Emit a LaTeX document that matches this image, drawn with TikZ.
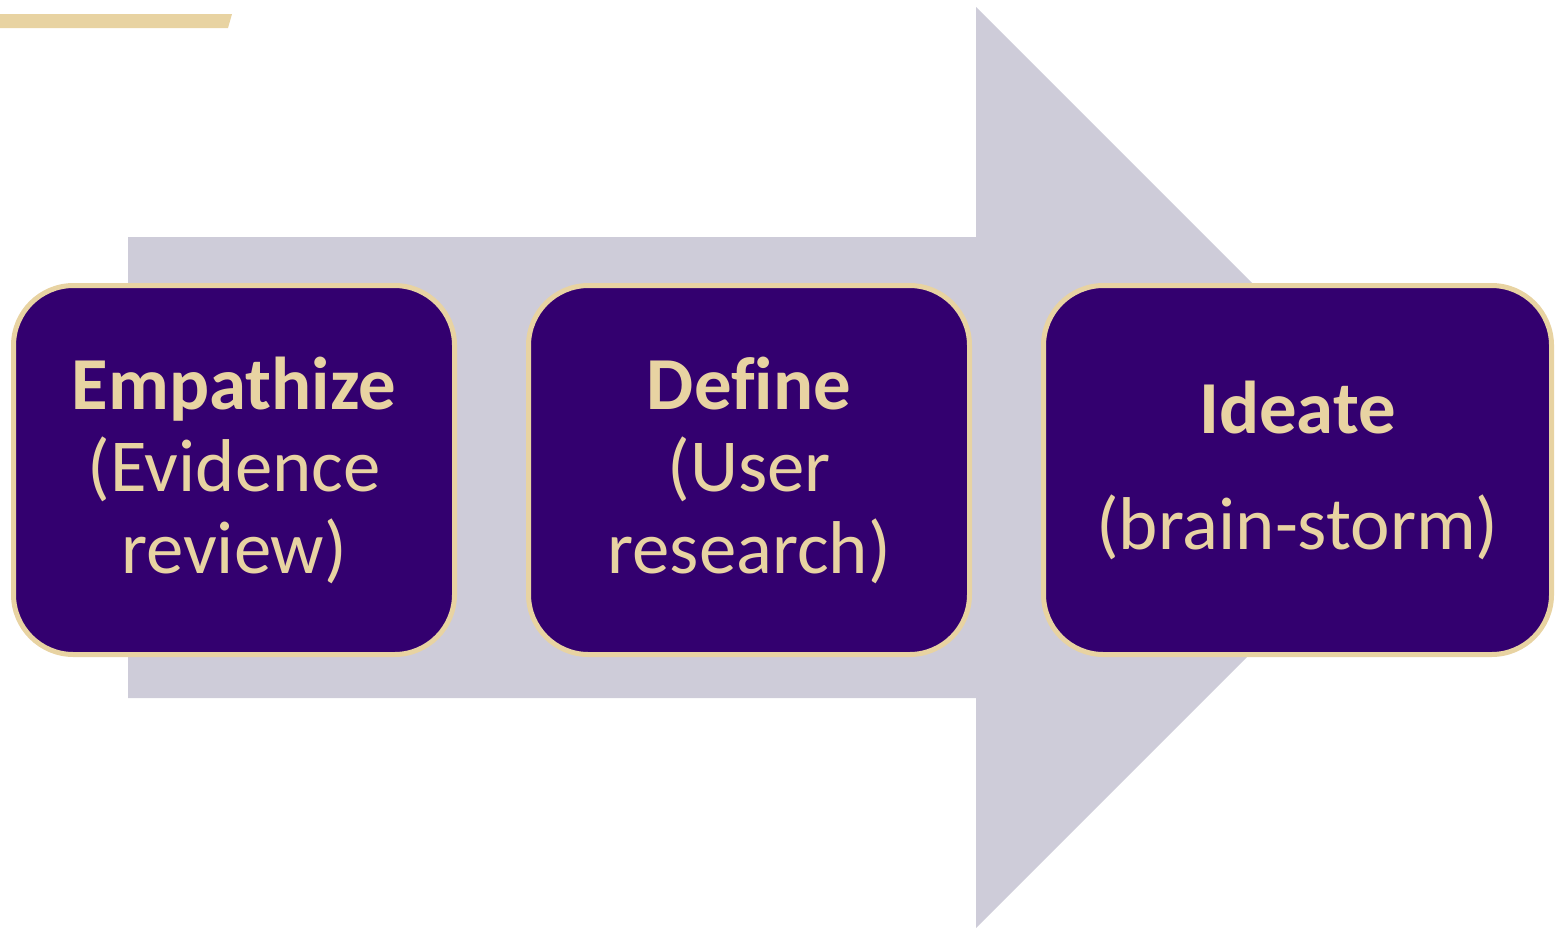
\documentclass[tikz,border=0pt]{standalone}
\usepackage{fontspec}
\setmainfont[Ligatures=NoCommon]{Carlito}
\usetikzlibrary{positioning}
\definecolor{uwpurple}{HTML}{33006F}
\definecolor{uwgold}{HTML}{E8D3A2}
\definecolor{arrowgray}{HTML}{CECCD9}

\begin{document}
\begin{tikzpicture}[x=0.5pt, y=-0.5pt,
  stage/.style={draw=uwgold, line width=2.5pt, fill=uwpurple, rounded corners=30pt,
    minimum height=184.5pt, align=center, text=uwgold,
    font=\fontsize{37.4}{41}\selectfont, inner sep=0pt}]
  \useasboundingbox (0,0) rectangle (1556,927);
  % gold bar top left
  \fill[uwgold] (0,14) -- (232,14) -- (228,28) -- (0,28) -- cycle;
  % big arrow behind the stages
  \fill[arrowgray] (128,237) -- (976,237) -- (976,7) -- (1436.5,467.5)
    -- (976,928) -- (976,698) -- (128,698) -- cycle;
  % stages
  \node[stage, minimum width=220.5pt] (empathize) at (234,470)
    {\textbf{Empathize}\\(Evidence\\review)};
  \node[stage, minimum width=220.5pt] (define) at (749,470)
    {\textbf{Define}\\(User\\research)};
  \node[stage, minimum width=254pt] (ideate) at (1297.5,470)
    {\textbf{Ideate}\\[17pt](brain-storm)};
\end{tikzpicture}
\end{document}
